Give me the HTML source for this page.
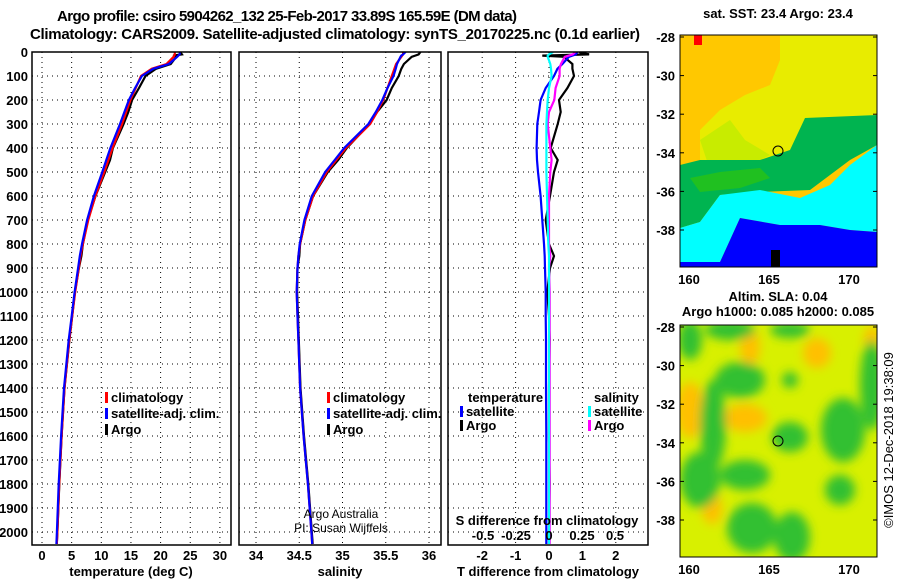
<!DOCTYPE html>
<html><head><meta charset="utf-8"><style>
html,body{margin:0;padding:0;background:#fff;}
svg{display:block;font-family:"Liberation Sans",sans-serif;}
.b{font-weight:bold;font-size:13px;}
.n{font-size:12px;}
</style></head><body>
<svg id="chart" width="900" height="580" viewBox="0 0 900 580">
<defs>
<clipPath id="c1"><rect x="32" y="52" width="199" height="493"/></clipPath>
<clipPath id="c2"><rect x="239" y="52" width="202" height="493"/></clipPath>
<clipPath id="c3"><rect x="448" y="52" width="200" height="493"/></clipPath>
<clipPath id="cm1"><rect x="680" y="35" width="197" height="232"/></clipPath>
<clipPath id="cm2"><rect x="680" y="325" width="197" height="232"/></clipPath>
<filter id="blur"><feGaussianBlur stdDeviation="5"/></filter>
</defs>
<text x="287" y="21" text-anchor="middle" font-size="15" font-weight="bold" textLength="460">Argo profile: csiro 5904262_132 25-Feb-2017 33.89S 165.59E (DM data)</text>
<text x="335" y="39" text-anchor="middle" font-size="15" font-weight="bold" textLength="610">Climatology: CARS2009. Satellite-adjusted climatology: synTS_20170225.nc (0.1d earlier)</text>

<g id="maps">
<g clip-path="url(#cm1)">
<rect x="680" y="35" width="197" height="232" fill="#ffc800"/>
<polygon points="780,35 877,35 877,125 805,120 790,150 760,160 725,168 700,160 700,130 720,110 745,95 770,85 780,60" fill="#e8ec00"/>
<polygon points="700,140 730,120 745,140 770,155 745,168 710,170" fill="#c8ec00"/>
<polygon points="680,165 700,160 730,160 760,160 790,150 805,118 877,115 877,145 850,160 810,190 760,192 720,195 700,222 680,228" fill="#00b450"/>
<polygon points="690,178 720,172 760,168 770,178 740,188 700,192" fill="#20c020"/>
<polygon points="680,228 700,222 720,195 760,190 800,198 830,185 850,165 877,145 877,232 850,230 820,225 780,225 740,218 730,240 720,262 680,262" fill="#00ffff"/>
<polygon points="680,262 720,262 730,240 740,218 780,225 820,225 850,230 877,232 877,267 680,267" fill="#0000ff"/>
<rect x="694" y="35" width="8" height="10" fill="#ff0000"/>
<rect x="771" y="250" width="9" height="17" fill="#000"/>
</g>
<rect x="680" y="35" width="197" height="232" fill="none" stroke="#000"/>
<circle cx="778" cy="151" r="5" fill="none" stroke="#000"/>

<g clip-path="url(#cm2)">
<rect x="680" y="325" width="197" height="232" fill="#d8f000"/>
<g filter="url(#blur)">
<ellipse cx="690" cy="410" rx="14" ry="28" fill="#ffc000"/>
<ellipse cx="745" cy="418" rx="22" ry="14" fill="#ffc000"/>
<ellipse cx="750" cy="347" rx="10" ry="18" fill="#ffc000"/>
<ellipse cx="817" cy="353" rx="14" ry="15" fill="#ffc000"/>
<ellipse cx="872" cy="340" rx="8" ry="14" fill="#ffc000"/>
<ellipse cx="712" cy="508" rx="10" ry="16" fill="#ffc000"/>
<ellipse cx="690" cy="340" rx="12" ry="20" fill="#30c030"/>
<ellipse cx="730" cy="330" rx="25" ry="10" fill="#30c030"/>
<ellipse cx="790" cy="330" rx="20" ry="8" fill="#30c030"/>
<ellipse cx="740" cy="380" rx="25" ry="18" fill="#30c030"/>
<ellipse cx="713" cy="425" rx="13" ry="45" fill="#30c030"/>
<ellipse cx="700" cy="480" rx="20" ry="28" fill="#30c030"/>
<ellipse cx="745" cy="475" rx="25" ry="15" fill="#30c030"/>
<ellipse cx="752" cy="528" rx="25" ry="25" fill="#30c030"/>
<ellipse cx="792" cy="537" rx="18" ry="25" fill="#30c030"/>
<ellipse cx="790" cy="437" rx="18" ry="15" fill="#30c030"/>
<ellipse cx="843" cy="430" rx="22" ry="32" fill="#30c030"/>
<ellipse cx="872" cy="385" rx="12" ry="45" fill="#30c030"/>
<ellipse cx="840" cy="490" rx="15" ry="15" fill="#30c030"/>
<ellipse cx="790" cy="380" rx="8" ry="8" fill="#30c030"/>
</g>
</g>
<rect x="680" y="325" width="197" height="232" fill="none" stroke="#000"/>
<circle cx="778" cy="441" r="5" fill="none" stroke="#000"/>
<text x="778" y="18" text-anchor="middle" class="b">sat. SST: 23.4 Argo: 23.4</text>
<text x="778" y="301" text-anchor="middle" class="b">Altim. SLA: 0.04</text>
<text x="778" y="316" text-anchor="middle" class="b">Argo h1000: 0.085 h2000: 0.085</text>
<text transform="translate(893,440) rotate(-90)" text-anchor="middle" font-size="13">©IMOS 12-Dec-2018 19:38:09</text>
</g>
<g id="plots"></g>
</svg>
<script>
const depths = [0,10,15,20,50,70,100,150,200,250,300,400,450,500,600,700,800,850,900,1000,1100,1200,1400,1600,1800,2000,2050];
const climT = [22.4,22.4,22.3,22.2,21,18.5,16.7,15.8,14.9,14.2,13.5,11.9,11.2,10.5,9.0,7.8,6.9,6.5,6.2,5.6,5.1,4.6,3.8,3.3,2.9,2.6,2.5];
const climS = [35.7,35.7,35.69,35.68,35.62,35.6,35.57,35.52,35.47,35.4,35.32,35.04,34.93,34.82,34.66,34.57,34.51,34.49,34.48,34.47,34.48,34.49,34.51,34.55,34.6,34.64,34.65];
const argoTdiff = [0.9,1.2,-0.2,0.45,0.7,0.7,0.75,0.55,0.3,0.35,0.26,0.05,0.26,0.15,0.03,-0.1,0,0.15,0.03,-0.05,0,0.02,0,0,0.02,0,0];
const satTdiff = [0.85,0.8,0.7,0.6,0.4,0.25,0.15,-0.1,-0.25,-0.3,-0.35,-0.37,-0.36,-0.33,-0.25,-0.2,-0.15,-0.13,-0.12,-0.1,-0.1,-0.09,-0.09,-0.08,-0.08,-0.08,-0.08];
const argoSdiff = [0.2,0.18,0.15,0.12,0.09,0.08,0.08,0.05,0.04,0.0,-0.01,0.01,0.02,0.01,0,0,0,0.01,0,0.005,0.005,0.005,0.005,0.005,0.005,0.005,0.005];
const satSdiff = [0.03,0.0,-0.01,-0.01,0.01,0.015,0.02,0,-0.01,-0.015,-0.02,-0.02,-0.02,-0.02,-0.015,-0.01,-0.005,0,0,0,0,0,0,0,0,0,0];
const depthTicks = [0,100,200,300,400,500,600,700,800,900,1000,1100,1200,1300,1400,1500,1600,1700,1800,1900,2000];
const tempTicks = [0,5,10,15,20,25,30];
const salTicks = [34,34.5,35,35.5,36];
const salTickLabels = ["34","34.5","35","35.5","36"];
const tdTicks = [-2,-1,0,1,2];
const sdTicks = [-0.5,-0.25,0,0.25,0.5];
const sdTickLabels = ["-0.5","-0.25","0","0.25","0.5"];
const latTicks = [-28,-30,-32,-34,-36,-38];
const lonTicks = [160,165,170];

const NS="http://www.w3.org/2000/svg";
const root=document.getElementById('plots');
function mk(tag,attrs,parent){const e=document.createElementNS(NS,tag);for(const k in attrs)e.setAttribute(k,attrs[k]);(parent||root).appendChild(e);return e;}
const yD = d => 52 + d*0.24;
const xT = t => 42 + t*5.93;
const xS = s => 256 + (s-34)*86.5;
const xTd = v => 549 + v*33.4;
const xSd = v => 549 + v*132;

const panels=[{x0:32,x1:231,clip:'c1'},{x0:239,x1:441,clip:'c2'},{x0:448,x1:648,clip:'c3'}];
function grid(p,xs){
  const g=mk('g',{});
  
  
  depthTicks.forEach(d=>{const l=mk('line',{x1:p.x0,x2:p.x1,y1:yD(d),y2:yD(d),stroke:'#000','stroke-dasharray':'1,4','stroke-width':1},g);
    
    });
  xs.forEach(x=>{const l=mk('line',{x1:x,x2:x,y1:52,y2:545,stroke:'#000','stroke-dasharray':'1,4','stroke-width':1},g);
    
    });
}
grid(panels[0],tempTicks.map(xT));
grid(panels[1],salTicks.map(xS));
grid(panels[2],tdTicks.map(xTd));

function line(vals,xf,color,clip,name){
  const pts=depths.map((d,i)=>xf(vals[i]).toFixed(1)+','+yD(d).toFixed(1)).join(' ');
  const pl=mk('polyline',{points:pts,fill:'none',stroke:color,'stroke-width':2.2,'clip-path':'url(#'+clip+')'});
  
  
}
const argoT=climT.map((v,i)=>v+argoTdiff[i]);
const satT=climT.map((v,i)=>v+satTdiff[i]);
const argoS=climS.map((v,i)=>v+argoSdiff[i]);
const satS=climS.map((v,i)=>v+satSdiff[i]);
line(argoT,xT,'#000','c1','argo-temperature-line');
line(climT,xT,'#f00','c1','climatology-temperature-line');
line(satT,xT,'#00f','c1','satellite-temperature-line');
line(argoS,xS,'#000','c2','argo-salinity-line');
line(climS,xS,'#f00','c2','climatology-salinity-line');
line(satS,xS,'#00f','c2','satellite-salinity-line');
line(argoTdiff,xTd,'#000','c3','argo-t-diff-line');
line(satTdiff,xTd,'#00f','c3','satellite-t-diff-line');
line(argoSdiff,xSd,'#f0f','c3','argo-s-diff-line');
line(satSdiff,xSd,'#0ff','c3','satellite-s-diff-line');

panels.forEach((p,i)=>{const r=mk('rect',{x:p.x0,y:52,width:p.x1-p.x0,height:493,fill:'none',stroke:'#000','stroke-width':1.5});
  
  });

function txt(x,y,s,anchor,name,cls,extra){const t=mk('text',Object.assign({x:x,y:y,'text-anchor':anchor,class:cls||'b'},extra||{}));t.textContent=s;
  
  return t;}
depthTicks.forEach(d=>txt(28,yD(d)+5,String(d),'end','depth-tick-label'));
tempTicks.forEach(t=>txt(xT(t),560,String(t),'middle','temperature-tick-label'));
salTicks.forEach((s,i)=>txt(xS(s),560,salTickLabels[i],'middle','salinity-tick-label'));
tdTicks.forEach(t=>txt(xTd(t),560,String(t),'middle','t-diff-tick-label'));
sdTicks.forEach((s,i)=>txt(xSd(s),540,sdTickLabels[i],'middle','s-diff-tick-label'));
txt(131,576,'temperature (deg C)','middle','temperature-axis-title');
txt(340,576,'salinity','middle','salinity-axis-title');
txt(548,576,'T difference from climatology','middle','t-diff-axis-title');
txt(547,525,'S difference from climatology','middle','s-diff-axis-title');
txt(341,518,'Argo Australia','middle','credit-argo-australia','n');
txt(341,532,'PI: Susan Wijffels','middle','credit-pi','n');

function legend(x,y,color,label,name){
  const r=mk('rect',{x:x,y:y-10,width:3,height:11,fill:color});
  
  
  txt(x+6,y,label,'start',name);
}
legend(105,402,'#f00','climatology','legend-climatology-t');
legend(105,418,'#00f','satellite-adj. clim.','legend-satellite-t');
legend(105,434,'#000','Argo','legend-argo-t');
legend(327,402,'#f00','climatology','legend-climatology-s');
legend(327,418,'#00f','satellite-adj. clim.','legend-satellite-s');
legend(327,434,'#000','Argo','legend-argo-s');
txt(468,402,'temperature','start','legend-temperature-header');
legend(460,416,'#00f','satellite','legend-t-satellite');
legend(460,430,'#000','Argo','legend-t-argo');
txt(594,402,'salinity','start','legend-salinity-header');
legend(588,416,'#0ff','satellite','legend-s-satellite');
legend(588,430,'#f0f','Argo','legend-s-argo');

const latY1 = l => 37 + (-28-l)*19.3;
const latY2 = l => 327 + (-28-l)*19.3;
const lonX = l => 689 + (l-160)*16;
latTicks.forEach(l=>{txt(675,latY1(l)+5,String(l),'end','sst-lat-label');txt(675,latY2(l)+5,String(l),'end','sla-lat-label');
  [latY1(l),latY2(l)].forEach(y=>{const a=mk('line',{x1:680,x2:684,y1:y,y2:y,stroke:'#000'});
  
  
  const b=mk('line',{x1:873,x2:877,y1:y,y2:y,stroke:'#000'});
  
  });});
lonTicks.forEach(l=>{txt(lonX(l),284,String(l),'middle','sst-lon-label',null,{'font-size':15});txt(lonX(l),574,String(l),'middle','sla-lon-label',null,{'font-size':15});});
</script>
</body></html>
